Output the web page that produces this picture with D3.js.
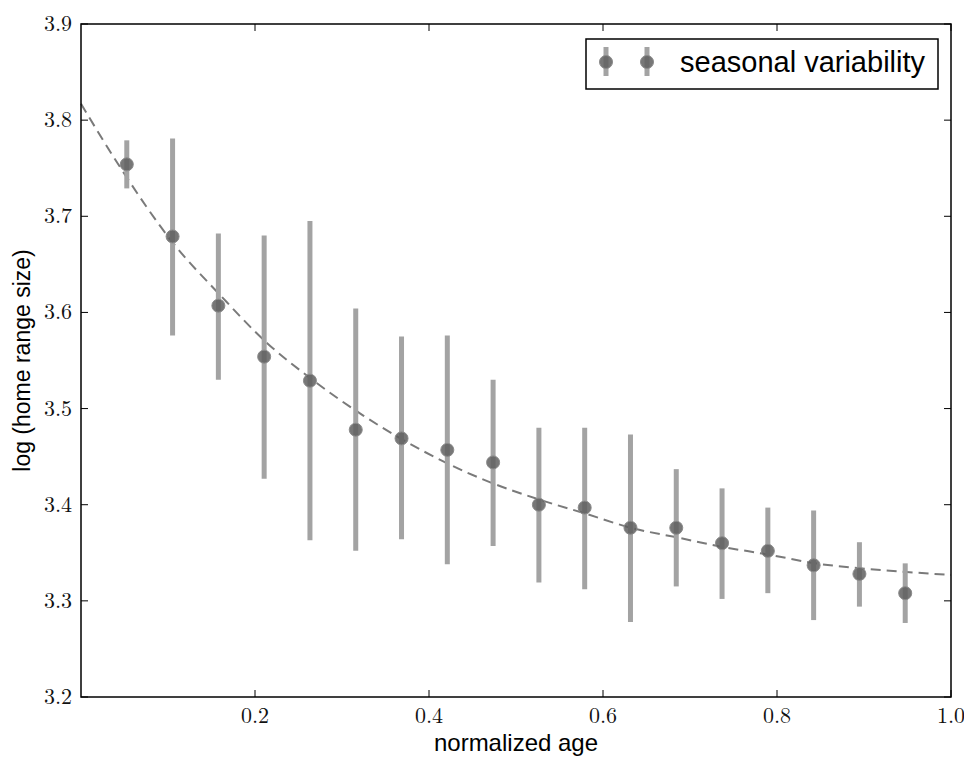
<!DOCTYPE html>
<html>
<head>
<meta charset="utf-8">
<script src="https://cdn.jsdelivr.net/npm/d3@7"></script>
<style>
  body { margin: 0; background: #fff; }
  svg { display: block; }
</style>
</head>
<body>
<div id="chart"></div>
<script>
(function () {
  'use strict';
  /* global d3 */

  // normalized age of each group
  var ages = [1, 2, 3, 4, 5, 6, 7, 8, 9, 10, 11, 12, 13, 14, 15, 16, 17, 18].map(function (k) { return k / 19; });
  var means = [3.754, 3.679, 3.607, 3.554, 3.529, 3.478, 3.469, 3.457, 3.444,
               3.400, 3.397, 3.376, 3.376, 3.360, 3.352, 3.337, 3.328, 3.308];
  var upper = [3.779, 3.781, 3.682, 3.680, 3.695, 3.604, 3.575, 3.576, 3.530,
               3.480, 3.480, 3.473, 3.437, 3.417, 3.397, 3.394, 3.361, 3.339];
  var lower = [3.729, 3.576, 3.530, 3.427, 3.363, 3.352, 3.364, 3.338, 3.357,
               3.319, 3.312, 3.278, 3.315, 3.302, 3.308, 3.280, 3.294, 3.277];

  // dashed fit
  var fitX = [0, 0.045, 0.106, 0.160, 0.214, 0.263, 0.324, 0.369, 0.421, 0.474,
              0.528, 0.579, 0.632, 0.685, 0.738, 0.791, 0.844, 0.895, 0.949, 1.0];
  var fitY = [3.817, 3.751, 3.672, 3.618, 3.568, 3.532, 3.493, 3.468, 3.443, 3.422,
              3.405, 3.391, 3.376, 3.366, 3.356, 3.348, 3.339, 3.334, 3.330, 3.327];

  var xTicks = [0.2, 0.4, 0.6, 0.8, 1.0];
  var yTicks = [3.2, 3.3, 3.4, 3.5, 3.6, 3.7, 3.8, 3.9];

  var w = 964,
      h = 758,
      left = 81,
      right = 951,
      top = 24,
      bottom = 697,
      tickLen = 7;

  var x = d3.scaleLinear().domain([0, 1]).range([left, right]);
  var y = d3.scaleLinear().domain([3.2, 3.9]).range([bottom, top]);

  var svg = d3.select('#chart')
    .append('svg')
    .attr('width', w)
    .attr('height', h);

  var fmt = d3.format('.1f');
  var serif = '"Latin Modern Roman", "CMU Serif", "DejaVu Serif", serif';
  var sans = '"Liberation Sans", Arial, sans-serif';

  // fit line
  var lineFun = d3.line()
    .x(function (d) { return x(d[0]); })
    .y(function (d) { return y(d[1]); })
    .curve(d3.curveMonotoneX);

  svg.append('path')
    .attr('d', lineFun(fitX.map(function (v, i) { return [v, fitY[i]]; })))
    .attr('fill', 'none')
    .attr('stroke', '#7a7a7a')
    .attr('stroke-width', 2)
    .attr('stroke-dasharray', '10,6');

  // error bars
  svg.selectAll('line.err')
    .data(ages)
    .enter()
    .append('line')
    .attr('class', 'err')
    .attr('x1', function (d) { return x(d); })
    .attr('x2', function (d) { return x(d); })
    .attr('y1', function (d, i) { return y(upper[i]); })
    .attr('y2', function (d, i) { return y(lower[i]); })
    .attr('stroke', '#a3a3a3')
    .attr('stroke-width', 5);

  svg.selectAll('circle.pt')
    .data(ages)
    .enter()
    .append('circle')
    .attr('class', 'pt')
    .attr('cx', function (d) { return x(d); })
    .attr('cy', function (d, i) { return y(means[i]); })
    .attr('r', 6.5)
    .attr('fill', '#5f5f5f')
    .attr('fill-opacity', 0.85)
    .attr('stroke', '#8a8a8a')
    .attr('stroke-width', 1);

  // frame
  svg.append('rect')
    .attr('x', left)
    .attr('y', top)
    .attr('width', right - left)
    .attr('height', bottom - top)
    .attr('fill', 'none')
    .attr('stroke', '#000')
    .attr('stroke-width', 1.5);

  // ticks, inward on all four sides
  var axisG = svg.append('g').attr('stroke', '#000').attr('stroke-width', 1);
  xTicks.forEach(function (t) {
    axisG.append('line').attr('x1', x(t)).attr('x2', x(t)).attr('y1', bottom).attr('y2', bottom - tickLen);
    axisG.append('line').attr('x1', x(t)).attr('x2', x(t)).attr('y1', top).attr('y2', top + tickLen);
  });
  yTicks.forEach(function (t) {
    axisG.append('line').attr('x1', left).attr('x2', left + tickLen).attr('y1', y(t)).attr('y2', y(t));
    axisG.append('line').attr('x1', right).attr('x2', right - tickLen).attr('y1', y(t)).attr('y2', y(t));
  });

  svg.selectAll('text.xt')
    .data(xTicks)
    .enter()
    .append('text')
    .attr('class', 'xt')
    .text(function (d) { return fmt(d); })
    .attr('x', function (d) { return x(d); })
    .attr('y', 723)
    .attr('text-anchor', 'middle')
    .attr('font-family', serif)
    .attr('font-size', 22)
    .attr('fill', '#111');

  svg.selectAll('text.yt')
    .data(yTicks)
    .enter()
    .append('text')
    .attr('class', 'yt')
    .text(function (d) { return fmt(d); })
    .attr('x', 72)
    .attr('y', function (d) { return y(d) + 7; })
    .attr('text-anchor', 'end')
    .attr('font-family', serif)
    .attr('font-size', 22)
    .attr('fill', '#111');

  // axis labels
  svg.append('text')
    .text('normalized age')
    .attr('x', (left + right) / 2)
    .attr('y', 751)
    .attr('text-anchor', 'middle')
    .attr('font-family', sans)
    .attr('font-size', 24)
    .attr('fill', '#000');

  svg.append('text')
    .text('log (home range size)')
    .attr('transform', 'translate(30,' + ((top + bottom) / 2) + ') rotate(-90)')
    .attr('text-anchor', 'middle')
    .attr('font-family', sans)
    .attr('font-size', 23)
    .attr('fill', '#000');

  // legend
  var leg = svg.append('g');
  leg.append('rect')
    .attr('x', 586)
    .attr('y', 39)
    .attr('width', 352)
    .attr('height', 50)
    .attr('fill', '#fff')
    .attr('stroke', '#000')
    .attr('stroke-width', 1.5);
  [606, 647].forEach(function (cx) {
    leg.append('line')
      .attr('x1', cx).attr('x2', cx)
      .attr('y1', 47).attr('y2', 76)
      .attr('stroke', '#a3a3a3')
      .attr('stroke-width', 5);
    leg.append('circle')
      .attr('cx', cx).attr('cy', 62)
      .attr('r', 6.5)
      .attr('fill', '#5f5f5f')
      .attr('fill-opacity', 0.85)
      .attr('stroke', '#8a8a8a')
      .attr('stroke-width', 1);
  });
  leg.append('text')
    .text('seasonal variability')
    .attr('x', 680)
    .attr('y', 72)
    .attr('font-family', sans)
    .attr('font-size', 29)
    .attr('fill', '#000');

}());
</script>
</body>
</html>
